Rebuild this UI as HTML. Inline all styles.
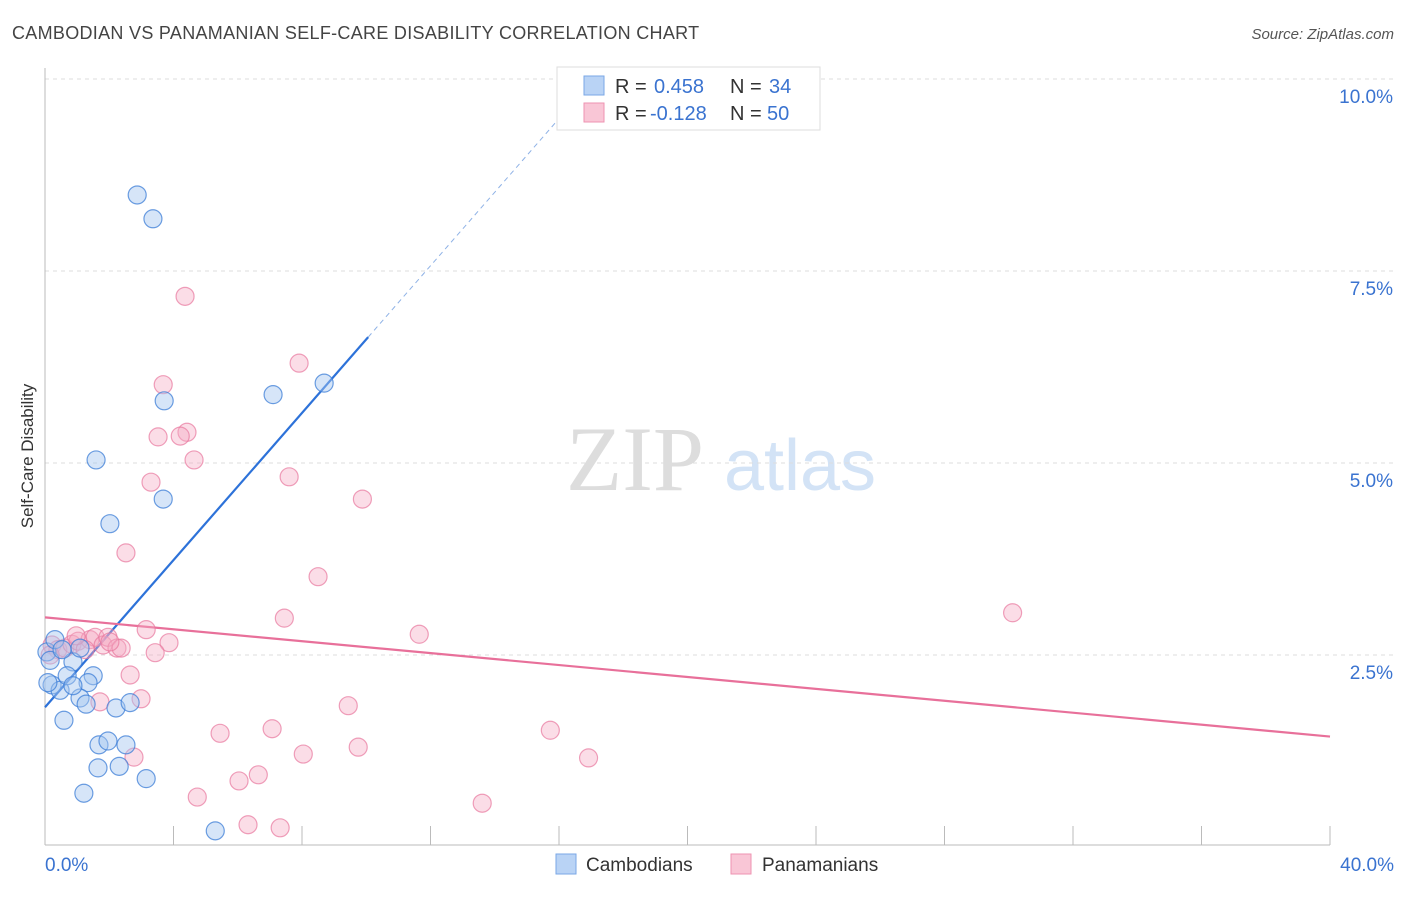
<!DOCTYPE html>
<html><head><meta charset="utf-8"><style>
body{margin:0;background:#fff;font-family:"Liberation Sans",sans-serif;}
svg text{font-family:"Liberation Sans",sans-serif;}
</style></head><body>
<svg id="chart" width="1406" height="892" xmlns="http://www.w3.org/2000/svg">
<text x="12" y="39" font-size="18" fill="#444" letter-spacing="0.3">CAMBODIAN VS PANAMANIAN SELF-CARE DISABILITY CORRELATION CHART</text>
<text x="1394" y="39" font-size="15" fill="#555" font-style="italic" text-anchor="end">Source: ZipAtlas.com</text>
<text x="33" y="456" font-size="17" fill="#333" text-anchor="middle" transform="rotate(-90 33 456)">Self-Care Disability</text>
<g>
<text x="635" y="490" font-size="92" fill="#ddd" text-anchor="middle" style="font-family:'Liberation Serif',serif">ZIP</text>
<text x="800" y="490" font-size="72" fill="#d3e3f6" text-anchor="middle">atlas</text>
</g>
<g id="grid"></g>
<g id="axes"></g>
<g id="lines"></g>
<g id="points"></g>
<g>
<rect x="557" y="67" width="263" height="63" fill="#fff" stroke="#ddd"/>
<rect x="584" y="76" width="20" height="19" fill="#b9d3f5" stroke="#7aa7e6"/>
<rect x="584" y="103" width="20" height="19" fill="#f9c6d6" stroke="#ee93b1"/>
<text x="615" y="93" font-size="20" fill="#333">R = </text><text x="654" y="93" font-size="20" fill="#3a73d0">0.458</text>
<text x="730" y="93" font-size="20" fill="#333">N = </text><text x="769" y="93" font-size="20" fill="#3a73d0">34</text>
<text x="615" y="120" font-size="20" fill="#333">R = </text><text x="650" y="120" font-size="20" fill="#3a73d0">-0.128</text>
<text x="730" y="120" font-size="20" fill="#333">N = </text><text x="767" y="120" font-size="20" fill="#3a73d0">50</text>
</g>
<g>
<rect x="556" y="854" width="20" height="20" fill="#b9d3f5" stroke="#7aa7e6"/>
<text x="586" y="871" font-size="19" fill="#333">Cambodians</text>
<rect x="731" y="854" width="20" height="20" fill="#f9c6d6" stroke="#ee93b1"/>
<text x="762" y="871" font-size="19" fill="#333">Panamanians</text>
</g>
</svg>
<script>
const yTicks=[2.5,5.0,7.5,10.0];
const yTickLabels=["2.5%","5.0%","7.5%","10.0%"];
const xTicks=[0,4,8,12,16,20,24,28,32,36,40];
const xEndLabels=["0.0%","40.0%"];
const camX=[2.87,3.36,3.71,7.10,8.69,1.59,3.68,2.02,0.06,0.16,0.22,0.47,0.87,0.69,1.50,1.34,1.09,1.28,0.59,2.21,2.65,1.68,1.96,2.52,1.65,2.31,1.21,3.15,5.30,0.87,0.31,1.09,0.09,0.53];
const camY=[8.49,8.18,5.81,5.89,6.04,5.04,4.53,4.21,2.54,2.43,2.11,2.04,2.41,2.23,2.23,2.14,1.94,1.86,1.65,1.81,1.88,1.33,1.38,1.33,1.03,1.05,0.70,0.89,0.21,2.10,2.70,2.59,2.14,2.57];
const panX=[4.36,7.91,3.68,4.42,3.52,4.21,4.64,3.30,7.60,9.88,2.52,8.50,30.12,7.45,11.65,3.15,3.86,3.43,2.65,2.99,1.71,9.44,5.45,7.07,15.73,9.75,8.04,2.77,16.92,6.64,6.04,4.74,13.61,6.32,7.32,0.22,0.40,0.62,0.84,1.03,1.40,1.56,1.81,1.96,2.24,2.37,0.16,1.25,2.02,0.97];
const panY=[7.17,6.30,6.02,5.40,5.34,5.35,5.04,4.75,4.82,4.53,3.83,3.52,3.05,2.98,2.77,2.83,2.66,2.53,2.24,1.93,1.89,1.84,1.48,1.54,1.52,1.30,1.21,1.17,1.16,0.94,0.86,0.65,0.57,0.29,0.25,2.63,2.57,2.59,2.64,2.68,2.70,2.73,2.63,2.73,2.59,2.59,2.50,2.57,2.67,2.75];
const camTrend=[1.82,0.479];
const camSolidEnd=10.06, camDashEnd=16.66;
const panTrend=[2.99,-0.0388];
const NS="http://www.w3.org/2000/svg";
const sx=v=>45+v*32.125, sy=v=>847-v*76.8;
function mk(t,a,p){const e=document.createElementNS(NS,t);for(const k in a)e.setAttribute(k,a[k]);p.appendChild(e);return e;}
const grid=document.getElementById('grid'),axes=document.getElementById('axes'),lines=document.getElementById('lines'),pts=document.getElementById('points');
yTicks.forEach((v,i)=>{
 const l=mk('line',{x1:45,x2:1394,y1:sy(v),y2:sy(v),stroke:'#ddd','stroke-dasharray':'4,4'},grid);
 
 
 const t=mk('text',{x:1393,y:sy(v)+24,'font-size':19,fill:'#3a73d0','text-anchor':'end'},grid);
 t.textContent=yTickLabels[i];
 
 
});
const la=mk('line',{x1:45,x2:45,y1:68,y2:845,stroke:'#bbb'},axes);


const ba=mk('line',{x1:45,x2:1330,y1:845,y2:845,stroke:'#bbb'},axes);


xTicks.forEach(v=>{
 const t=mk('line',{x1:sx(v),x2:sx(v),y1:826,y2:845,stroke:'#bbb'},axes);
 
 
});
[[0,'start',45],[40,'end',1394]].forEach((d,i)=>{
 const t=mk('text',{x:d[2],y:871,'font-size':19,fill:'#3a73d0','text-anchor':d[1]},axes);
 t.textContent=xEndLabels[i];
 
 
});
function circles(xs,ys,fill,stroke,name){xs.forEach((x,i)=>{
 const c=mk('circle',{cx:sx(x),cy:sy(ys[i]),r:9,fill:fill,stroke:stroke,'stroke-width':1.2},pts);
 
 
});}
circles(panX,panY,'rgba(246,170,195,0.4)','rgba(232,120,158,0.7)','panamanian-point');
circles(camX,camY,'rgba(165,198,240,0.45)','rgba(60,125,215,0.75)','cambodian-point');
const cl=mk('line',{x1:sx(0),y1:sy(camTrend[0]),x2:sx(camSolidEnd),y2:sy(camTrend[0]+camTrend[1]*camSolidEnd),stroke:'#2d72d9','stroke-width':2.2},lines);


const cd=mk('line',{x1:sx(camSolidEnd),y1:sy(camTrend[0]+camTrend[1]*camSolidEnd),x2:sx(camDashEnd),y2:sy(camTrend[0]+camTrend[1]*camDashEnd),stroke:'#8fb2e6','stroke-width':1,'stroke-dasharray':'5,4'},lines);


const pl=mk('line',{x1:sx(0),y1:sy(panTrend[0]),x2:sx(40),y2:sy(panTrend[0]+panTrend[1]*40),stroke:'#e8709a','stroke-width':2.2},lines);


</script>
</body></html>
